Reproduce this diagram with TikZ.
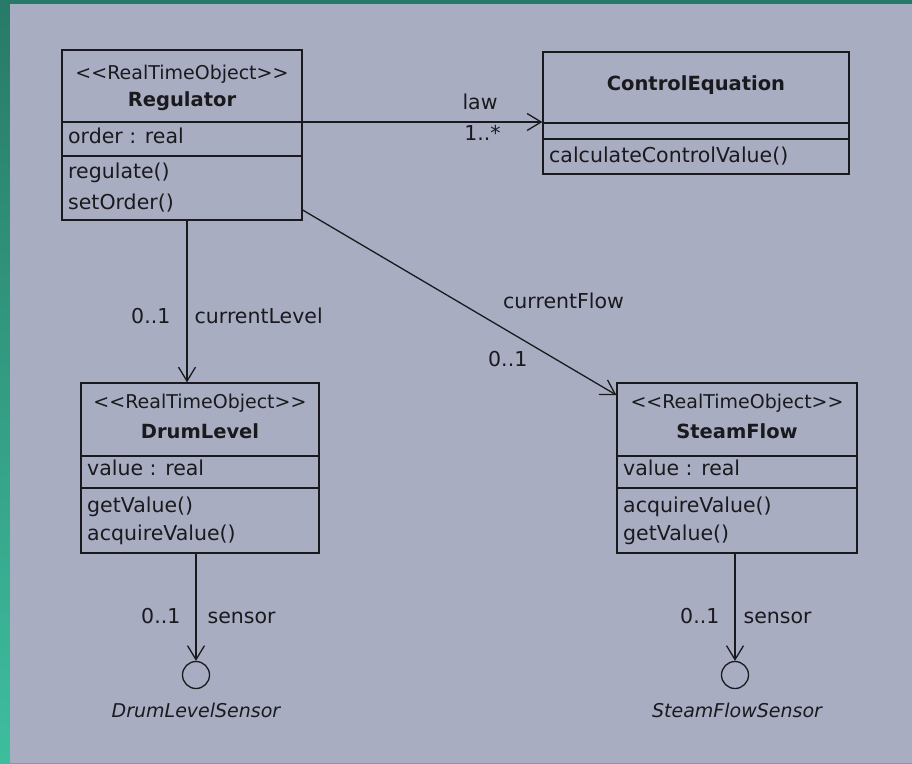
\documentclass[tikz,border=0pt]{standalone}
\usepackage{fontspec}
\usepackage{xcolor}
\usepackage{tikz}
\newfontfamily\umlfont{DejaVu Sans}
\definecolor{panelgray}{RGB}{169,173,193}
\definecolor{tealtop}{RGB}{40,122,104}
\definecolor{tealbottom}{RGB}{62,190,158}
\definecolor{inkblack}{RGB}{25,25,30}
\usetikzlibrary{arrows.meta, positioning}

\tikzset{
	classbox/.style = {draw=inkblack, line width=1.3pt, rectangle, inner sep=0pt},
	divider/.style = {draw=inkblack, line width=1.3pt},
	stereo/.style = {anchor=base, inner sep=0pt, text=inkblack, font=\umlfont\fontsize{19}{22}\selectfont},
	cname/.style = {anchor=base, inner sep=0pt, text=inkblack, font=\umlfont\bfseries\fontsize{19.5}{22}\selectfont},
	member/.style = {anchor=base west, inner sep=0pt, text=inkblack, font=\umlfont\fontsize{20.5}{24}\selectfont},
	lbl/.style = {inner sep=0pt, text height=15pt, text depth=4pt, text=inkblack, font=\umlfont\fontsize{20.5}{24}\selectfont},
	ifname/.style = {anchor=base, inner sep=0pt, text=inkblack, font=\umlfont\itshape\fontsize{19}{22}\selectfont},
	assoc/.style = {draw=inkblack, line width=1.3pt, -{Straight Barb[length=14pt,width=17pt,line width=1.3pt]}},
	iface/.style = {draw=inkblack, line width=1.3pt, circle, minimum size=27pt, inner sep=0pt}
}

\begin{document}
\begin{tikzpicture}[x=1pt, y=1pt]
	\useasboundingbox (0,0) rectangle (912,-763);
	\shade[top color=tealtop, bottom color=tealbottom] (0,0) rectangle (912,-763);
	\fill[panelgray] (10,-4) rectangle (912,-763);
	
	% classes
	\node[classbox, minimum width=240pt, minimum height=170pt] (reg) at (182,-135) {};
	\draw[divider] (reg.west |- 0,-122) -- (reg.east |- 0,-122);
	\draw[divider] (reg.west |- 0,-156) -- (reg.east |- 0,-156);
	\node[stereo] (regst) at (182,-79) {<{}<RealTimeObject>{}>};
	\node[cname] (regname) at (182,-106) {Regulator};
	\node[member] (regattr) at (68,-143) {order : real};
	\node[member] (regop1) at (68,-178) {regulate()};
	\node[member] (regop2) at (68,-209) {setOrder()};
	
	\node[classbox, minimum width=306pt, minimum height=122pt] (ctrl) at (696,-113) {};
	\draw[divider] (ctrl.west |- 0,-123) -- (ctrl.east |- 0,-123);
	\draw[divider] (ctrl.west |- 0,-139) -- (ctrl.east |- 0,-139);
	\node[cname] (ctrlname) at (696,-90) {ControlEquation};
	\node[member] (ctrlop1) at (549,-162) {calculateControlValue()};
	
	\node[classbox, minimum width=238pt, minimum height=170pt] (drum) at (200,-468) {};
	\draw[divider] (drum.west |- 0,-456) -- (drum.east |- 0,-456);
	\draw[divider] (drum.west |- 0,-488) -- (drum.east |- 0,-488);
	\node[stereo] (drumst) at (200,-408) {<{}<RealTimeObject>{}>};
	\node[cname] (drumname) at (200,-438) {DrumLevel};
	\node[member] (drumattr) at (87,-475) {value : real};
	\node[member] (drumop1) at (87,-512) {getValue()};
	\node[member] (drumop2) at (87,-540) {acquireValue()};
	
	\node[classbox, minimum width=240pt, minimum height=170pt] (steam) at (737,-468) {};
	\draw[divider] (steam.west |- 0,-456) -- (steam.east |- 0,-456);
	\draw[divider] (steam.west |- 0,-488) -- (steam.east |- 0,-488);
	\node[stereo] (steamst) at (737,-408) {<{}<RealTimeObject>{}>};
	\node[cname] (steamname) at (737,-438) {SteamFlow};
	\node[member] (steamattr) at (623,-475) {value : real};
	\node[member] (steamop1) at (623,-512) {acquireValue()};
	\node[member] (steamop2) at (623,-540) {getValue()};
	
	% interfaces
	\node[iface] (drumsens) at (196,-675) {};
	\node[ifname] (drumsensname) at (196,-717) {DrumLevelSensor};
	\node[iface] (steamsens) at (735,-675) {};
	\node[ifname] (steamsensname) at (737,-717) {SteamFlowSensor};
	
	% associations
	\draw[assoc] (reg.east |- 0,-122) -- node[lbl, pos=0.74, above=8pt] {law} node[lbl, pos=0.75, below=3pt] {1..*} (ctrl.west |- 0,-122);
	\draw[assoc] (reg.south -| 187,0) -- node[lbl, pos=0.6, left=16pt] {0..1} node[lbl, pos=0.6, right=7pt] {currentLevel} (drum.north -| 187,0);
	\draw[assoc] (reg.east |- 0,-210) -- (steam.west |- 0,-395);
	\node[lbl, anchor=base west] (flowname) at (503,-308) {currentFlow};
	\node[lbl, anchor=base west] (flowmult) at (488,-366) {0..1};
	
	\draw[assoc] (drum.south -| drumsens) -- node[lbl, pos=0.6, left=15pt] {0..1} node[lbl, pos=0.6, right=11pt] {sensor} (drumsens.north);
	\draw[assoc] (steam.south -| steamsens) -- node[lbl, pos=0.6, left=15pt] {0..1} node[lbl, pos=0.6, right=8pt] {sensor} (steamsens.north);
	
\end{tikzpicture}
\end{document}
